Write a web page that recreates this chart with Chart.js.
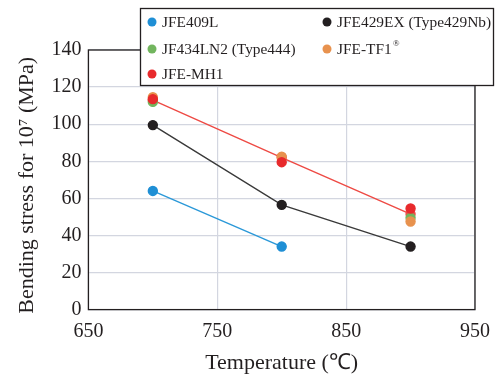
<!DOCTYPE html>
<html><head><meta charset="utf-8">
<script src="https://cdn.jsdelivr.net/npm/chart.js@4/dist/chart.umd.min.js"></script>
<style>html,body{margin:0;padding:0;background:#fff}#wrap{width:496px;height:376px;position:relative}</style>
</head><body><div id="wrap"><canvas id="c" width="496" height="376"></canvas></div>
<script>
const temps = [700, 800, 900];
const jfe409L = [64, 34, null];
const jfe429EX = [99.5, 56.5, 34];
const jf434LN2 = [112, null, 49.5];
const jfeTF1 = [114.5, 82.5, 47.5];
const jfeMH1 = [113.5, 79.5, 54.5];
const mh1Trend = [113, 82, 51.5];
const xTicks = [650, 750, 850, 950];
const yTicks = [0, 20, 40, 60, 80, 100, 120, 140];
const legendLabels = ["JFE409L", "JFE429EX (Type429Nb)", "JF434LN2 (Type444)", "JFE-TF1®", "JFE-MH1"];

const C = {blue:'#1f8fd5', black:'#231f20', green:'#72b55e', orange:'#e8924e', red:'#e82a2c', redLine:'#ee4a44'};
const pts = arr => temps.map((t,i)=>({x:t,y:arr[i]})).filter(p=>p.y!==null);
const FONT = "'Liberation Serif','Times New Roman',serif";
const LF = "15.4px " + FONT;

const framePlugin = {
  id:'frame',
  afterDatasetsDraw(chart){
    const {ctx, chartArea:a} = chart;
    ctx.save();
    ctx.strokeStyle = '#231f20'; ctx.lineWidth = 1.3;
    ctx.strokeRect(a.left, a.top, a.right-a.left, a.bottom-a.top);
    const bx=140.5, by=8.5, bw=353, bh=77;
    ctx.fillStyle='#fff'; ctx.fillRect(bx,by,bw,bh);
    ctx.strokeRect(bx,by,bw,bh);
    const items = [
      {t:legendLabels[0], c:C.blue, x:152, y:22},
      {t:legendLabels[1], c:C.black, x:327, y:22},
      {t:legendLabels[2], c:C.green, x:152, y:49},
      {t:legendLabels[3], c:C.orange, x:327, y:49},
      {t:legendLabels[4], c:C.red, x:152, y:74}
    ];
    ctx.font = LF;
    ctx.textBaseline='middle';
    items.forEach(it=>{
      ctx.beginPath(); ctx.arc(it.x, it.y, 4.5, 0, Math.PI*2); ctx.fillStyle=it.c; ctx.fill();
      ctx.fillStyle='#231f20';
      let t = it.t;
      if (t.endsWith('®')) {
        const base = t.slice(0,-1);
        ctx.fillText(base, it.x+10, it.y+1);
        const w = ctx.measureText(base).width;
        ctx.font = "9px " + FONT;
        ctx.fillText('®', it.x+10+w+1, it.y-5);
        ctx.font = LF;
      } else ctx.fillText(t, it.x+10, it.y+1);
    });
    ctx.restore();
  }
};

const ds = (label, data, color, order, showLine, lineColor) => ({
  label, data: pts(data), borderColor: lineColor||color, backgroundColor: color,
  pointBackgroundColor: color, pointBorderColor: color, pointRadius: 4.5, pointHoverRadius:4.5,
  borderWidth: 1.4, showLine, order
});

new Chart(document.getElementById('c'), {
  type:'scatter',
  data:{datasets:[
    ds('JFE-MH1 trend', mh1Trend, C.redLine, 6, true),
    ds('JFE409L', jfe409L, C.blue, 4, true, '#2a98d8'),
    ds('JFE429EX (Type429Nb)', jfe429EX, C.black, 3, true, '#3a3a3a'),
    ds('JF434LN2 (Type444)', jf434LN2, C.green, 5, false),
    ds('JFE-TF1®', jfeTF1, C.orange, 2, false),
    ds('JFE-MH1', jfeMH1, C.red, 1, false)
  ]},
  options:{
    responsive:false, animation:false, devicePixelRatio:1,
    layout:{padding:{top:50, right:21, left:14, bottom:0}},
    plugins:{legend:{display:false}, tooltip:{enabled:false}},
    scales:{
      x:{type:'linear', min:650, max:950,
        afterBuildTicks(s){ s.ticks = xTicks.map(v=>({value:v})); },
        afterFit(s){ s.paddingRight = 0; s.paddingLeft = 0; },
        grid:{color:'#d3d6e0', lineWidth:1.2, drawTicks:false},
        border:{display:false},
        ticks:{color:'#231f20', font:{family:FONT, size:20}, padding:10, maxRotation:0},
        title:{display:true, text:'Temperature (℃)', color:'#231f20', font:{family:FONT, size:22}, padding:{top:-4,bottom:0}}
      },
      y:{min:0, max:140,
        afterBuildTicks(s){ s.ticks = yTicks.map(v=>({value:v})); },
        grid:{color:'#d3d6e0', lineWidth:1.2, drawTicks:false},
        border:{display:false},
        ticks:{color:'#231f20', font:{family:FONT, size:20}, padding:7},
        title:{display:true, text:'Bending stress for 10⁷ (MPa)  ', color:'#231f20', font:{family:FONT, size:22}, padding:{top:0,bottom:4}}
      }
    }
  },
  plugins:[framePlugin]
});
</script></body></html>
